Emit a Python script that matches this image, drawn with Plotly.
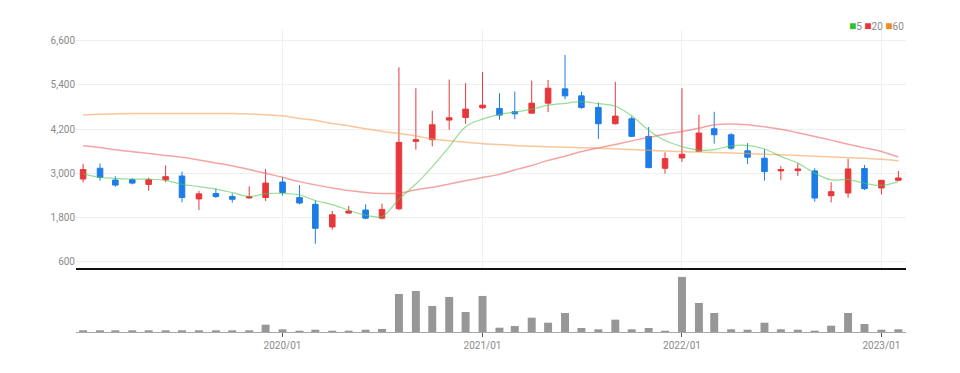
import plotly.graph_objects as go

months = ["2019-01","2019-02","2019-03","2019-04","2019-05","2019-06","2019-07","2019-08","2019-09","2019-10",
          "2019-11","2019-12","2020-01","2020-02","2020-03","2020-04","2020-05","2020-06","2020-07","2020-08",
          "2020-09","2020-10","2020-11","2020-12","2021-01","2021-02","2021-03","2021-04","2021-05","2021-06",
          "2021-07","2021-08","2021-09","2021-10","2021-11","2021-12","2022-01","2022-02","2022-03","2022-04",
          "2022-05","2022-06","2022-07","2022-08","2022-09","2022-10","2022-11","2022-12","2023-01","2023-02"]
dates = [m + "-01" for m in months]

opens = [2844,3137,2817,2826,2698,2826,2927,2304,2450,2368,
         2331,2340,2762,2340,2157,1544,1919,2002,1782,2036,
         3867,3912,4444,4516,4778,4760,4669,4633,4904,5292,
         5102,4787,4345,4480,4002,3136,3416,3596,4209,4045,
         3609,3409,3064,3073,3064,2391,2464,3127,2600,2809]
highs = [3256,3266,2918,2863,2881,3211,3046,2524,2588,2450,
         2643,3119,2890,2679,2267,1974,2111,2157,2175,5878,
         5310,4696,5544,5445,5752,5174,5220,5517,5535,6212,
         5211,4922,5481,4543,4255,3569,5310,4588,4669,4091,
         3818,3655,3200,3273,3136,2755,3391,3227,2818,3064]
lows = [2753,2798,2634,2698,2524,2762,2212,2002,2331,2203,
        2304,2249,2395,2157,1086,1470,1910,1754,1745,1999,
        3641,3731,4182,4345,4742,4453,4471,4615,4660,5012,
        4751,3930,4327,3984,3136,2992,3307,3596,3803,3636,
        3255,2800,2818,2927,2227,2209,2336,2546,2427,2791]
closes = [3101,2890,2679,2734,2826,2908,2340,2441,2368,2295,
          2368,2734,2478,2194,1507,1873,1974,1782,2020,3840,
          3912,4318,4507,4742,4850,4579,4615,4904,5310,5102,
          4787,4345,4552,4002,3154,3398,3515,4092,4047,3682,
          3436,3045,3100,3118,2327,2500,3118,2582,2809,2873]

ma5 = [2985,2890,2863,2845,2840,2807,2700,2640,2570,2475,
       2370,2445,2455,2410,2260,2150,2000,1860,1830,2300,
       2710,3175,3720,4265,4470,4600,4660,4740,4850,4900,
       4945,4890,4820,4560,4170,3890,3725,3630,3640,3745,
       3755,3660,3460,3275,3005,2820,2830,2730,2670,2775]
ma20 = [3750,3700,3640,3587,3540,3485,3434,3360,3280,3207,
        3100,3000,2890,2773,2685,2600,2530,2480,2450,2460,
        2550,2620,2710,2800,2885,2970,3090,3210,3350,3460,
        3590,3690,3780,3880,3975,4060,4135,4220,4320,4340,
        4315,4260,4195,4100,4000,3900,3790,3690,3590,3440]
ma60 = [4580,4600,4615,4620,4620,4620,4620,4620,4620,4620,
        4610,4590,4560,4490,4440,4350,4290,4210,4140,4080,
        4010,3930,3880,3840,3805,3780,3755,3735,3720,3710,
        3695,3680,3665,3645,3625,3605,3590,3575,3565,3550,
        3535,3515,3500,3480,3465,3445,3425,3405,3380,3340]

volumes = [170,170,170,170,170,170,170,170,170,170,
           170,730,270,130,230,130,130,230,300,3800,
           4100,2600,3500,2000,3600,430,600,1430,930,1900,
           400,270,1230,270,400,130,5500,2900,1900,270,
           230,930,270,230,130,630,1900,800,230,270]

price_ticks = [600, 1800, 3000, 4200, 5400, 6600]
year_ticks = ["2020-01-01", "2021-01-01", "2022-01-01", "2023-01-01"]
year_labels = ["2020/01", "2021/01", "2022/01", "2023/01"]

RED = "#E8373B"
BLUE = "#1D7CE6"
FONT = "Liberation Sans Narrow, Roboto, sans-serif"

fig = go.Figure()

fig.add_trace(go.Scatter(x=dates, y=ma60, mode="lines", line=dict(color="rgba(246,160,90,0.6)", width=1.5, shape="spline"),
                         showlegend=False, xaxis="x", yaxis="y"))
fig.add_trace(go.Scatter(x=dates, y=ma20, mode="lines", line=dict(color="rgba(236,90,90,0.55)", width=1.5, shape="spline"),
                         showlegend=False, xaxis="x", yaxis="y"))
fig.add_trace(go.Scatter(x=dates, y=ma5, mode="lines", line=dict(color="rgba(80,200,80,0.6)", width=1.2, shape="spline"),
                         showlegend=False, xaxis="x", yaxis="y"))

fig.add_trace(go.Candlestick(x=dates, open=opens, high=highs, low=lows, close=closes,
                             increasing=dict(line=dict(color=RED, width=1), fillcolor=RED),
                             decreasing=dict(line=dict(color=BLUE, width=1), fillcolor=BLUE),
                             whiskerwidth=0, showlegend=False, xaxis="x", yaxis="y"))

fig.add_trace(go.Bar(x=dates, y=volumes, marker=dict(color="#979797", line=dict(width=0)),
                     width=[1.26e9] * len(dates), showlegend=False, xaxis="x2", yaxis="y2"))

xrange = ["2018-12-19", "2023-02-15"]

fig.update_layout(
    width=960, height=373,
    margin=dict(l=76, r=54, t=30, b=41, autoexpand=False),
    paper_bgcolor="white", plot_bgcolor="white",
    boxgap=0.48,
    font=dict(family=FONT, size=10, color="#8a8a8a"),
    xaxis=dict(domain=[0, 1], range=xrange, type="date", anchor="y",
               showticklabels=False, showgrid=True, gridcolor="#efefef", gridwidth=1,
               tickvals=year_ticks, rangeslider=dict(visible=False),
               showline=True, linecolor="#111111", linewidth=2, ticks="", zeroline=False),
    yaxis=dict(domain=[0.212, 1], range=[429, 6890], anchor="x",
               tickvals=price_ticks, tickformat=",d", showgrid=True, gridcolor="#efefef",
               zeroline=False, showline=False, ticks="", tickfont=dict(size=10, color="#8a8a8a", family=FONT)),
    xaxis2=dict(domain=[0, 1], range=xrange, type="date", anchor="y2",
                tickvals=year_ticks, ticktext=year_labels, showgrid=False,
                showline=True, linecolor="#a8a8a8", linewidth=1, ticks="outside", ticklen=4,
                tickcolor="#555555", tickfont=dict(size=10, color="#8a8a8a", family=FONT), zeroline=False),
    yaxis2=dict(domain=[0, 0.199], range=[0, 6000], anchor="x2", showgrid=False,
                showticklabels=False, zeroline=False, showline=False, ticks=""),
    annotations=[dict(
        xref="paper", yref="paper", x=1.0, y=1.013, xanchor="right", yanchor="middle", showarrow=False,
        text="<span style='color:#2CC12C;font-size:12px'>■</span>5 <span style='color:#E8373B;font-size:12px'>■</span>20 <span style='color:#F08A24;font-size:12px'>■</span>60",
        font=dict(size=10, color="#8a8a8a", family=FONT))],
)

fig.write_html("out.html", config={"displayModeBar": False},
               post_script="document.body.style.margin='0';")
